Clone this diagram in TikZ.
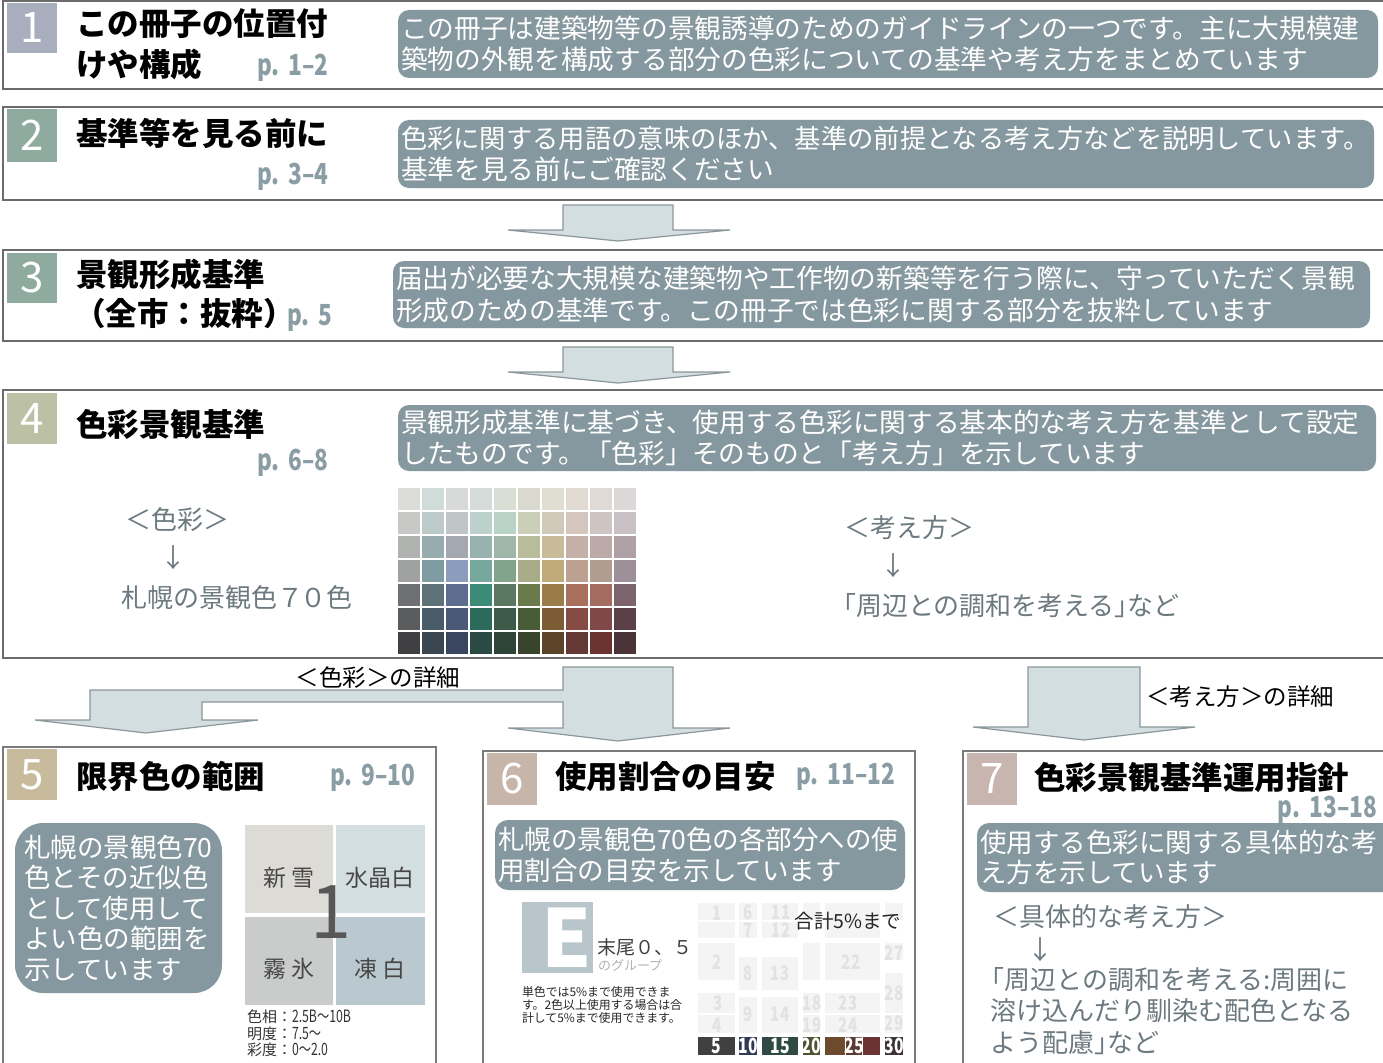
\documentclass[tikz,border=0pt]{standalone}
\usepackage{fontspec}
\usepackage{graphicx}
\setmainfont{Noto Sans CJK JP}
\usetikzlibrary{calc}

\definecolor{bordercol}{HTML}{6B6B6B}
\definecolor{bordercolb}{HTML}{7A7A7A}
\definecolor{descfill}{HTML}{86989F}
\definecolor{pgcol}{HTML}{8A9DA5}
\definecolor{graytxt}{HTML}{6C7A80}
\definecolor{arrfill}{HTML}{D3DEE0}
\definecolor{arrdraw}{HTML}{8C979B}
\definecolor{cA}{HTML}{A9AEBF}
\definecolor{cB}{HTML}{8FAA9F}
\definecolor{cC}{HTML}{8FAA9E}
\definecolor{cD}{HTML}{BCC1A5}
\definecolor{cE}{HTML}{C8BB9C}
\definecolor{cF}{HTML}{C7B5AA}
\definecolor{cG}{HTML}{C8B5B0}
\definecolor{shinsetsu}{HTML}{DDDBD6}
\definecolor{suishou}{HTML}{D3DEE0}
\definecolor{muhyou}{HTML}{CACBCB}
\definecolor{touhaku}{HTML}{B9C9CF}
\definecolor{efill}{HTML}{B8C6CC}
\definecolor{fadefill}{HTML}{F4F4F4}
\definecolor{fadetxt}{HTML}{E2E2E2}
\definecolor{gA}{HTML}{2F3B55}
\definecolor{gB}{HTML}{2F4A42}
\definecolor{gC}{HTML}{4D5434}
\definecolor{gD}{HTML}{6B4B2C}
\definecolor{gE}{HTML}{5A3A32}
\definecolor{gF}{HTML}{6B3333}
\definecolor{gG}{HTML}{3E3437}

\newcommand\myfs[1]{\fontsize{#1}{#1}\selectfont}
\newcommand\pgnum[1]{\scalebox{0.78}[1]{\bfseries\myfs{29}#1}}
\newcommand\cond[2]{\scalebox{0.75}[1]{\bfseries\myfs{#1}#2}}
\newcommand\pdot{p.\hspace{0.4em}}

\begin{document}
\begin{tikzpicture}[x=1pt,y=-1pt,
  every node/.style={inner sep=0pt,outer sep=0pt},
  bigbox/.style={draw=bordercol,line width=2.6pt,anchor=north west},
  lowbox/.style={draw=bordercolb,line width=2pt,anchor=north west},
  numsq/.style={anchor=north west,minimum width=50pt,minimum height=50pt,text=white,font=\myfs{42}},
  title/.style={anchor=west,font=\bfseries\myfs{31.5},text=black},
  pg/.style={text=pgcol},
  desc/.style={fill=descfill,rounded corners=11pt,text=white,align=left,inner xsep=3pt,inner ysep=0pt,anchor=north west,font={\fontsize{26.7}{31.5}\selectfont}},
  gtxt/.style={text=graytxt,font=\myfs{26}},
  blockarrow/.style={fill=arrfill,draw=arrdraw,line width=1.2pt,line join=miter},
  lbl/.style={text=black,font=\myfs{23.5}},
  cell/.style={anchor=center,text=black!72,font=\myfs{23}},
]
\useasboundingbox (0,0) rectangle (1383,1062);
\clip (0,0) rectangle (1383,1062);
\fill[white] (0,0) rectangle (1383,1062);

% ---------- Box 1 ----------
\node[bigbox,minimum width=1420pt,minimum height=88pt] (b1) at (3,1) {};
\node[numsq,fill=cA] (q1) at (7,3) {1};
\node[title] (t1a) at (76,24) {この冊子の位置付};
\node[title] (t1b) at (76,64) {けや構成};
\node[pg,anchor=west] (p1) at (257,68) {\pgnum{\pdot 1–2}};
\node[desc,text width=974pt,minimum height=68pt] (d1) at (398,10)
 {この冊子は建築物等の景観誘導のためのガイドラインの一つです。主に大規模建\\築物の外観を構成する部分の色彩についての基準や考え方をまとめています};

% ---------- Box 2 ----------
\node[bigbox,minimum width=1420pt,minimum height=93pt] (b2) at (3,107) {};
\node[numsq,fill=cB,minimum height=53pt] (q2) at (7,109) {2};
\node[title] (t2) at (76,133) {基準等を見る前に};
\node[pg,anchor=west] (p2) at (257,177) {\pgnum{\pdot 3–4}};
\node[desc,text width=970pt,minimum height=68pt] (d2) at (398,120)
 {{\fontsize{26.3}{31.5}\selectfont 色彩に関する用語の意味のほか、基準の前提となる考え方などを説明しています。}\\基準を見る前にご確認ください};

% ---------- Arrow 2->3 ----------
\draw[blockarrow] (563,205) -- (673,205) -- (673,230) -- (730,230) -- (618,241) -- (508,230) -- (563,230) -- cycle;

% ---------- Box 3 ----------
\node[bigbox,minimum width=1420pt,minimum height=91pt] (b3) at (3,250) {};
\node[numsq,fill=cC] (q3) at (7,253) {3};
\node[title] (t3a) at (76,274) {景観形成基準};
\node[title] (t3b) at (74,314) {（全市：抜粋）};
\node[pg,anchor=west] (p3) at (287,318) {\pgnum{\pdot 5}};
\node[desc,text width=971pt,minimum height=67pt] (d3) at (393,261)
 {届出が必要な大規模な建築物や工作物の新築等を行う際に、守っていただく景観\\形成のための基準です。この冊子では色彩に関する部分を抜粋しています};

% ---------- Arrow 3->4 ----------
\draw[blockarrow] (563,347) -- (673,347) -- (673,372) -- (730,372) -- (618,383) -- (508,372) -- (563,372) -- cycle;

% ---------- Box 4 ----------
\node[bigbox,minimum width=1420pt,minimum height=268pt] (b4) at (3,390) {};
\node[numsq,fill=cD,minimum height=51pt] (q4) at (7,393) {4};
\node[title] (t4) at (76,424) {色彩景観基準};
\node[pg,anchor=west] (p4) at (257,463) {\pgnum{\pdot 6–8}};
\node[desc,text width=972pt,minimum height=66pt] (d4) at (398,405)
 {景観形成基準に基づき、使用する色彩に関する基本的な考え方を基準として設定\\したものです。「色彩」そのものと「考え方」を示しています};
\node[gtxt] (k1) at (177,520) {＜色彩＞};
\node[gtxt] (k2) at (173,558) {↓};
\node[gtxt] (k3) at (237,598) {札幌の景観色７\kern-0.12em ０色};
\node[gtxt] (k4) at (909,528) {＜考え方＞};
\node[gtxt] (k5) at (893,566) {↓};
\node[gtxt,anchor=west] (k6) at (843,606) {\kern-0.5em「周辺との調和を考える」\kern-0.5em など};

% colour chart 10 x 7
\foreach \c [count=\k from 0] in {
DCDCD8,D0DCDA,D8DAD9,D5DCDA,DADFD6,DAD9CF,E0DDD2,E0DAD2,DFDAD6,DCD8D8,
C8C8C6,BCCAC9,C0C6C8,BCD0CC,B8D2C6,CCCFB8,D0C8B8,D4C6BC,CEC4C2,C8C0C2,
B0B2B0,96ACAE,A4A8B0,98B2AE,A0B6A8,B8BC9A,C8BC98,C4B0A8,BCAAA8,AEA0A4,
A0A2A2,7E9CA2,8C9CBC,76A8A0,82A48A,A8AC88,C0AA78,BCA090,B09C90,9E9098,
6E7074,5C7278,5E6C90,3C8A78,5A7860,6A7A4C,9A7C48,A8705C,A46C60,7C646C,
5A5C5E,4A5C68,4C5878,2C6A5C,3E5A48,485C38,7C5C34,844C44,804848,5C4048,
404042,3A4650,3A4660,2A4A44,2E4436,38442C,5C4428,643834,6C3430,4A3438}{
  \pgfmathtruncatemacro\rw{\k/10}
  \pgfmathtruncatemacro\cl{\k-10*\rw}
  \definecolor{cc}{HTML}{\c}
  \fill[cc] ({398+\cl*24},{488+\rw*24}) rectangle ++(22,22);
}

% ---------- Arrows from box 4 ----------
\draw[blockarrow] (563,667) -- (673,667) -- (673,728) -- (730,728) -- (618,741) -- (508,728) -- (563,728)
  -- (563,702) -- (202,702) -- (202,720) -- (258,720) -- (146,733) -- (35,720) -- (90,720) -- (90,690) -- (563,690) -- cycle;
\node[lbl] (l1) at (378,678) {＜色彩＞の詳細};
\draw[blockarrow] (1028,667) -- (1140,667) -- (1140,727) -- (1195,727) -- (1084,740) -- (973,727) -- (1028,727) -- cycle;
\node[lbl,anchor=west] (l2) at (1146,697) {＜考え方＞の詳細};

% ---------- Box 5 ----------
\node[lowbox,minimum width=433pt,minimum height=340pt] (b5) at (3,747) {};
\node[numsq,fill=cE,minimum height=51pt] (q5) at (7,749) {5};
\node[title] (t5) at (76,776) {限界色の範囲};
\node[pg,anchor=west] (p5) at (330,778) {\pgnum{\pdot 9–10}};
\node[desc,rounded corners=28pt,inner xsep=9pt,text width=189pt,minimum height=170pt,font={\fontsize{26.5}{30.5}\selectfont}] (d5) at (15,823)
 {札幌の景観色70\\色とその近似色\\として使用して\\よい色の範囲を\\示しています};
\fill[shinsetsu] (245,825) rectangle (333,913);
\fill[suishou] (336,825) rectangle (425,913);
\fill[muhyou] (245,917) rectangle (333,1005);
\fill[touhaku] (336,917) rectangle (425,1005);
\node[text=black!66,font=\myfs{74}] (one) at (331,912) {1};
\node[cell] (s1) at (289,878) {新 雪};
\node[cell] (s2) at (380,878) {水晶白};
\node[cell] (s3) at (289,969) {霧 氷};
\node[cell] (s4) at (380,969) {凍 白};
\node[anchor=north west,align=left,text=black!80,font={\fontsize{15}{16.5}\selectfont}] (hv) at (247,1010)
 {色相：\scalebox{0.72}[1]{\myfs{17}2.5B～10B}\\明度：\scalebox{0.72}[1]{\myfs{17}7.5～}\\彩度：\scalebox{0.72}[1]{\myfs{17}0～2.0}};

% ---------- Box 6 ----------
\node[lowbox,minimum width=432pt,minimum height=340pt] (b6) at (483,751) {};
\node[numsq,fill=cF,minimum height=52pt] (q6) at (487,753) {6};
\node[title] (t6) at (555,777) {使用割合の目安};
\node[pg,anchor=west] (p6) at (796,777) {\pgnum{\pdot 11–12}};
\node[desc,rounded corners=13pt,text width=404pt,minimum height=70pt,font={\fontsize{26.5}{30.5}\selectfont}] (d6) at (495,820)
 {札幌の景観色70色の各部分への使\\用割合の目安を示しています};
\node[anchor=north west,fill=efill,minimum width=71pt,minimum height=71pt] (esq) at (522,902) {};
\node[text=white,font=\bfseries\myfs{80}] (eletter) at (567,938) {E};
\node[anchor=west,text=black!75,font=\myfs{19}] (e1) at (597,947) {末尾０、５};
\node[anchor=west,text=black!30,font=\myfs{13}] (e2) at (598,965) {のグループ};
\node[anchor=north west,align=left,text=black!85,font={\fontsize{11.9}{13.2}\selectfont}] (e3) at (522,986)
 {単色では5\%まで使用できま\\す。2色以上使用する場合は合\\計して5\%まで使用できます。};
% faded grid
\foreach \x/\y/\w/\h in {698/903/37/17,698/922/37/16,698/943/37/37,698/993/37/20,698/1015/37/18,
  739/903/18/17,739/922/18/16,739/957/18/33,739/997/18/36,
  762/903/36/17,762/922/36/16,762/957/36/33,762/997/36/36,
  803/903/17/17,803/943/17/37,803/993/17/20,803/1015/17/18,
  825/903/55/35,825/943/55/37,825/993/55/20,825/1015/55/18,
  885/903/18/17,885/943/18/17,885/973/18/40,885/1015/18/18}{
  \fill[fadefill] (\x,\y) rectangle ++(\w,\h);
}
\foreach \t/\x/\y in {1/717/913,6/748/912,7/748/930,11/781/912,12/781/930,2/717/962,8/748/973,13/780/973,
  22/851/962,27/894/953,3/718/1003,9/748/1014,14/780/1014,18/812/1003,23/848/1003,28/894/993,
  4/717/1025,19/812/1025,24/848/1025,29/894/1023}{
  \node[text=fadetxt] at (\x,\y) {\cond{20}{\t}};
}
\node[text=black!85,font=\myfs{19.5}] (sum) at (848,921) {合計5\%まで};
\fill[black!75] (698,1037) rectangle ++(37,18);
\fill[gA] (739,1037) rectangle ++(18,18);
\fill[gB] (762,1037) rectangle ++(36,18);
\fill[gC] (803,1037) rectangle ++(17,18);
\fill[gD] (825,1037) rectangle ++(20,18);
\fill[gE] (846,1037) rectangle ++(16,18);
\fill[gF] (863,1037) rectangle ++(17,18);
\fill[gG] (885,1037) rectangle ++(18,18);
\foreach \t/\x in {5/716,10/748,15/780,20/811,25/854,30/894}{
  \node[text=white] at (\x,1046) {\cond{21}{\t}};
}

% ---------- Box 7 ----------
\node[lowbox,minimum width=460pt,minimum height=340pt] (b7) at (963,751) {};
\node[numsq,fill=cG,minimum height=52pt] (q7) at (967,753) {7};
\node[title] (t7) at (1034,778) {色彩景観基準運用指針};
\node[pg,anchor=east] (p7) at (1377,810) {\pgnum{\pdot 13–18}};
\node[desc,rounded corners=12pt,text width=412pt,minimum height=69pt,font={\fontsize{26.5}{30.5}\selectfont}] (d7) at (977,823)
 {使用する色彩に関する具体的な考\\え方を示しています};
\node[gtxt,anchor=west] (m1) at (993,917) {＜具体的な考え方＞};
\node[gtxt] (m2) at (1040,950) {↓};
\node[gtxt,anchor=north west,align=left,font={\fontsize{26}{31.5}\selectfont}] (m3) at (990,967)
 {\kern-0.45em「周辺との調和を考える:周囲に\\溶け込んだり馴染む配色となる\\よう配慮」\kern-0.5em など};
\end{tikzpicture}
\end{document}
